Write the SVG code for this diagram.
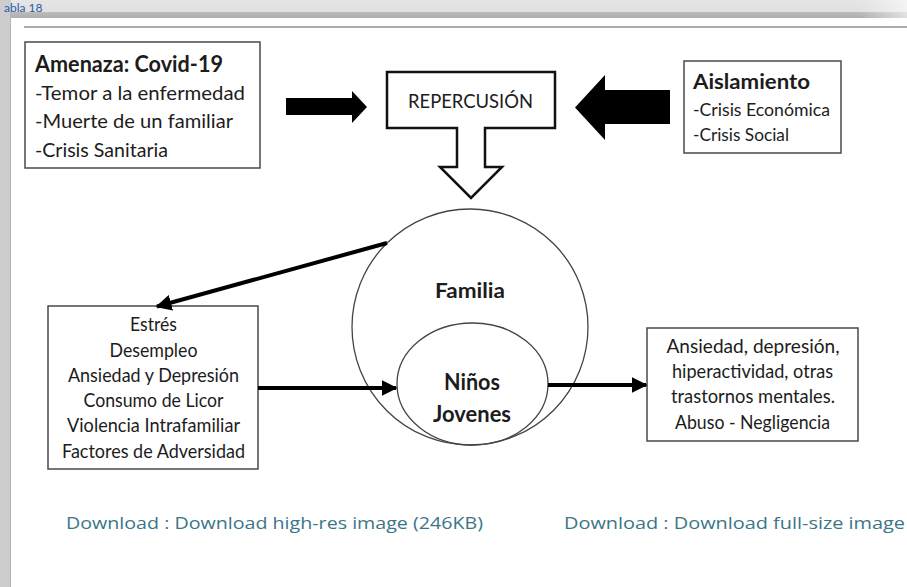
<svg xmlns="http://www.w3.org/2000/svg" width="907" height="587" viewBox="0 0 907 587">
<defs>
<style>
.t{font-family:Lato,"Open Sans","Liberation Sans",sans-serif;fill:#1c1c1c}
.b{font-weight:bold}
.box{fill:#fff;stroke:#4a4a4a;stroke-width:1.5}
.circ{fill:none;stroke:#444;stroke-width:1.3}
.con{stroke:#000;stroke-width:4;fill:none}
.blk{fill:#000}
.dl{font-family:"Open Sans","Liberation Sans",sans-serif;fill:#3a7688;font-size:17px}
</style>
<marker id="ah" viewBox="0 0 10 10" refX="9" refY="5" markerWidth="16" markerHeight="16" markerUnits="userSpaceOnUse" orient="auto">
<path d="M0,0 L10,5 L0,10 Z" fill="#000"/>
</marker>
<linearGradient id="topg" x1="0" y1="0" x2="0" y2="1">
<stop offset="0" stop-color="#e6e6e6"/>
<stop offset="0.65" stop-color="#e0e0e0"/>
<stop offset="0.7" stop-color="#b8b8b8"/>
<stop offset="1" stop-color="#b0b0b0"/>
</linearGradient>
<linearGradient id="fade" x1="0" y1="0" x2="1" y2="0">
<stop offset="0" stop-color="#fff" stop-opacity="0"/>
<stop offset="1" stop-color="#fff" stop-opacity="0.6"/>
</linearGradient>
</defs>
<g id="frame">
<rect x="0" y="0" width="907" height="587" fill="#fff"/>
<rect x="0" y="0" width="907" height="18" fill="url(#topg)"/>
<rect x="860" y="0" width="47" height="18" fill="url(#fade)"/>
<rect x="0" y="0" width="11" height="587" fill="#cdcdcd"/>
<line x1="10.5" y1="12" x2="10.5" y2="587" stroke="#b4b4b4" stroke-width="1"/>
<line x1="24" y1="27" x2="907" y2="27" stroke="#ababab" stroke-width="2"/>
<text x="4" y="12" font-family="Lato,'Liberation Sans',sans-serif" font-size="12" fill="#2b5aa8">abla 18</text>
</g>
<g id="amenaza">
<rect class="box" x="25" y="42" width="235" height="126"/>
<text class="t b" x="35" y="72" font-size="22" textLength="188" lengthAdjust="spacingAndGlyphs">Amenaza: Covid-19</text>
<text class="t" x="35" y="100" font-size="20" textLength="210" lengthAdjust="spacingAndGlyphs">-Temor a la enfermedad</text>
<text class="t" x="35" y="128" font-size="20" textLength="198" lengthAdjust="spacingAndGlyphs">-Muerte de un familiar</text>
<text class="t" x="35" y="157" font-size="20" textLength="133" lengthAdjust="spacingAndGlyphs">-Crisis Sanitaria</text>
</g>
<g id="repercusion">
<path d="M387,72 H555 V128 H485 V167 H502 L471,198 L440,167 H457 V128 H387 Z" fill="#fff" stroke="#111" stroke-width="2.5" stroke-linejoin="miter"/>
<text class="t" x="470.5" y="108" font-size="20" text-anchor="middle" textLength="125" lengthAdjust="spacingAndGlyphs">REPERCUSIÓN</text>
</g>
<g id="aislamiento">
<rect class="box" x="684" y="61" width="157" height="92"/>
<text class="t b" x="693" y="89" font-size="21" textLength="117" lengthAdjust="spacingAndGlyphs">Aislamiento</text>
<text class="t" x="693" y="116" font-size="18" textLength="137" lengthAdjust="spacingAndGlyphs">-Crisis Económica</text>
<text class="t" x="693" y="141" font-size="18" textLength="96" lengthAdjust="spacingAndGlyphs">-Crisis Social</text>
</g>
<g id="familia">
<circle class="circ" cx="470" cy="327" r="118"/>
<text class="t b" x="470" y="298" font-size="21" text-anchor="middle" textLength="70" lengthAdjust="spacingAndGlyphs">Familia</text>
</g>
<g id="ninos">
<ellipse class="circ" cx="472.5" cy="384" rx="75.5" ry="61"/>
<text class="t b" x="472" y="390" font-size="22" text-anchor="middle" textLength="56" lengthAdjust="spacingAndGlyphs">Niños</text>
<text class="t b" x="472" y="422" font-size="22" text-anchor="middle" textLength="78" lengthAdjust="spacingAndGlyphs">Jovenes</text>
</g>
<g id="factores">
<rect class="box" x="48" y="306" width="210" height="163"/>
<text class="t" x="153.5" y="331" font-size="19" text-anchor="middle" textLength="47" lengthAdjust="spacingAndGlyphs">Estrés</text>
<text class="t" x="153.5" y="357" font-size="19" text-anchor="middle" textLength="88" lengthAdjust="spacingAndGlyphs">Desempleo</text>
<text class="t" x="153.5" y="382" font-size="19" text-anchor="middle" textLength="171" lengthAdjust="spacingAndGlyphs">Ansiedad y Depresión</text>
<text class="t" x="153.5" y="407" font-size="19" text-anchor="middle" textLength="140" lengthAdjust="spacingAndGlyphs">Consumo de Licor</text>
<text class="t" x="153.5" y="432" font-size="19" text-anchor="middle" textLength="173" lengthAdjust="spacingAndGlyphs">Violencia Intrafamiliar</text>
<text class="t" x="153.5" y="458" font-size="19" text-anchor="middle" textLength="183" lengthAdjust="spacingAndGlyphs">Factores de Adversidad</text>
</g>
<g id="efectos">
<rect class="box" x="647" y="328" width="211" height="113"/>
<text class="t" x="753" y="353" font-size="19" text-anchor="middle" textLength="173" lengthAdjust="spacingAndGlyphs">Ansiedad,  depresión,</text>
<text class="t" x="752.5" y="378" font-size="19" text-anchor="middle" textLength="161" lengthAdjust="spacingAndGlyphs">hiperactividad, otras</text>
<text class="t" x="753" y="403" font-size="19" text-anchor="middle" textLength="164" lengthAdjust="spacingAndGlyphs">trastornos mentales.</text>
<text class="t" x="752.5" y="429" font-size="19" text-anchor="middle" textLength="155" lengthAdjust="spacingAndGlyphs">Abuso - Negligencia</text>
</g>
<g id="connectors">
<polygon class="blk" points="286,98 352,98 352,91 367,107 352,123 352,115 286,115"/>
<polygon class="blk" points="670,90 605,90 605,75 575,107.5 605,140 605,124 670,124"/>
<line class="con" x1="387" y1="243" x2="157" y2="306.5" marker-end="url(#ah)"/>
<line class="con" x1="258" y1="388" x2="396" y2="388" marker-end="url(#ah)"/>
<line class="con" x1="548" y1="385" x2="646" y2="385" marker-end="url(#ah)"/>
</g>
<g id="downloads">
<text class="dl" x="66" y="529" textLength="417" lengthAdjust="spacingAndGlyphs">Download : Download high-res image (246KB)</text>
<text class="dl" x="564" y="529" textLength="341" lengthAdjust="spacingAndGlyphs">Download : Download full-size image</text>
</g>
</svg>
